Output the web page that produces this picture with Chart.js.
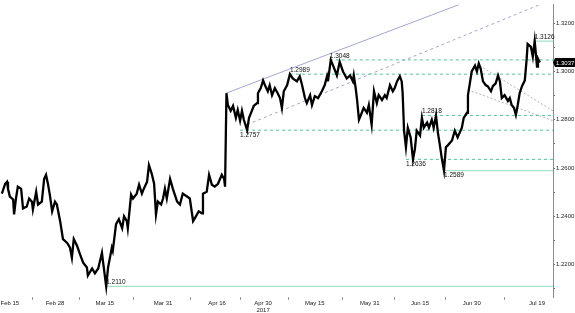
<!DOCTYPE html>
<html>
<head>
<meta charset="utf-8">
<script src="https://cdn.jsdelivr.net/npm/chart.js@4/dist/chart.umd.min.js"></script>
<style>
  html, body { margin: 0; padding: 0; background: #fff; }
</style>
</head>
<body>
<canvas id="fxChart" width="575" height="313"></canvas>
<script>
// x unit = trading days from the left edge of the chart
const tickDays = [2.1, 11.7, 22.3, 34.7, 46.2, 56.0, 67.0, 78.7, 89.4, 100.4, 114.3];
const tickLabels = ["Feb 15", "Feb 28", "Mar 15", "Mar 31", "Apr 16", ["Apr 30", "2017"], "May 15", "May 31", "Jun 15", "Jun 30", "Jul 19"];
const xMax = 117.7;

const priceDays = [0.4,1.1,1.5,1.7,2.1,2.8,3.0,3.4,3.8,4.5,4.9,5.7,6.2,6.8,7.0,7.7,8.1,8.9,9.4,9.8,
  10.2,10.6,11.1,11.7,12.1,12.8,13.4,14.3,14.9,15.3,15.7,16.4,17.0,17.7,18.5,18.7,19.6,20.2,20.9,21.7,
  21.9,22.6,23.0,23.8,24.0,24.7,25.3,26.0,26.4,27.0,27.2,27.9,28.3,29.1,29.6,30.2,30.6,31.3,31.7,32.3,
  32.8,33.2,33.6,34.3,34.7,35.1,35.5,36.2,36.8,37.2,37.7,38.3,38.9,39.8,40.4,41.1,41.7,42.3,43.0,43.2,
  44.0,44.5,45.1,45.7,46.4,47.2,47.7,47.9,
  48.2,48.5,49.1,49.6,50.2,50.6,51.1,51.5,51.9,52.6,53.0,53.6,54.0,54.7,54.9,55.5,56.0,56.4,57.0,57.4,
  57.9,58.5,59.1,59.6,60.0,60.4,61.1,61.7,62.3,63.2,63.8,64.3,64.9,65.3,66.0,66.4,67.0,67.7,68.5,69.1,
  69.6,69.8,70.4,70.9,71.7,72.3,
  73.0,73.8,74.5,75.1,75.3,75.7,76.0,76.4,77.0,77.4,78.1,78.5,79.1,79.6,80.2,80.6,81.3,81.9,82.3,83.0,
  83.6,84.0,84.5,85.1,85.5,85.7,86.0,86.4,86.8,87.4,87.9,88.3,88.7,89.4,89.8,90.2,90.9,91.3,91.9,92.3,
  92.8,93.2,93.6,94.0,94.5,94.9,95.3,96.2,96.8,97.4,98.3,98.7,99.4,99.6,100.0,100.4,101.1,101.5,101.9,102.3,
  102.8,103.4,103.8,104.5,104.9,105.5,106.0,106.4,106.8,107.4,108.1,108.5,108.9,109.4,109.8,110.2,110.6,111.1,111.7,112.1,
  112.3,113.0,113.4,113.8,114.3,114.5,114.9];

const prices = [1.2494,1.2535,1.2543,1.2514,1.2482,1.2470,1.2408,1.2474,1.2523,1.2514,1.2433,1.2441,1.2474,1.2461,1.2429,1.2502,1.2449,1.2461,1.2555,1.2572,
  1.2535,1.2490,1.2421,1.2461,1.2449,1.2380,1.2306,1.2290,1.2270,1.2229,1.2306,1.2278,1.2245,1.2208,1.2188,1.2155,1.2184,1.2164,1.2184,1.2249,
  1.2217,1.2110,1.2188,1.2270,1.2257,1.2368,1.2388,1.2351,1.2400,1.2380,1.2351,1.2490,1.2474,1.2494,1.2531,1.2494,1.2514,1.2543,1.2612,1.2576,
  1.2535,1.2408,1.2461,1.2449,1.2474,1.2514,1.2474,1.2555,1.2514,1.2490,1.2461,1.2449,1.2494,1.2482,1.2474,1.2380,1.2400,1.2421,1.2412,1.2494,
  1.2502,1.2572,1.2531,1.2523,1.2535,1.2572,1.2555,1.2523,
  1.2910,1.2861,1.2837,1.2857,1.2808,1.2841,1.2796,1.2837,1.2800,1.2757,1.2808,1.2837,1.2857,1.2869,1.2910,1.2931,1.2963,1.2943,1.2918,1.2943,
  1.2902,1.2931,1.2910,1.2890,1.2849,1.2918,1.2943,1.2989,1.2971,1.2959,1.2980,1.2943,1.2890,1.2869,1.2902,1.2861,1.2898,1.2890,1.2918,1.2943,
  1.2980,1.2959,1.3048,1.3024,1.2984,1.3040,
  1.3000,1.2971,1.2984,1.2959,1.2984,1.2931,1.2882,1.2800,1.2829,1.2849,1.2829,1.2861,1.2780,1.2918,1.2869,1.2902,1.2882,1.2902,1.2890,1.2943,
  1.2918,1.2931,1.2959,1.2980,1.2959,1.2910,1.2755,1.2686,1.2767,1.2727,1.2636,1.2678,1.2755,1.2735,1.2808,1.2767,1.2788,1.2767,1.2800,1.2767,
  1.2818,1.2747,1.2698,1.2645,1.2589,1.2686,1.2694,1.2714,1.2755,1.2727,1.2767,1.2808,1.2829,1.2902,1.2951,1.3000,1.3024,1.3000,1.3033,1.3012,
  1.2959,1.2943,1.2939,1.2918,1.2939,1.2951,1.2984,1.2959,1.2890,1.2902,1.2878,1.2890,1.2861,1.2849,1.2820,1.2861,1.2910,1.2939,1.2963,1.3053,
  1.3114,1.3102,1.3061,1.3126,1.3020,1.3053,1.3037];

const lastPrice = 1.3037;

// marked highs / lows and the day where each marker starts
const levelPrices = [1.3126, 1.3048, 1.2989, 1.2818, 1.2757, 1.2636, 1.2589, 1.2110];
const levelStartDays = [113.8, 70.2, 61.7, 89.8, 51.1, 86.4, 94.5, 22.6];

// trend lines: [startDay, startPrice, endDay, endPrice]
const channelTop = [48.1, 1.2910, 97.7, 1.3277];
const channelBottom = [52.6, 1.2780, 114.9, 1.3277];
const pullbackUpper = [102.1, 1.3024, 117.7, 1.2837];
const pullbackLower = [100.4, 1.2918, 117.7, 1.2796];

const yMin = 1.2066, yMax = 1.3277;

const FONT = "'Liberation Sans', Arial, sans-serif";
const solidLevels = [1.3126, 1.2589, 1.2110];
const labelsBelow = [1.2757, 1.2636, 1.2589];

const datasets = [];
datasets.push({
  data: priceDays.map((d, i) => ({ x: d, y: prices[i] })),
  borderColor: "#000",
  borderWidth: 2.3,
  pointRadius: 0,
  tension: 0,
});

levelPrices.forEach((p, i) => {
  const solid = solidLevels.includes(p);
  datasets.push({
    data: [{ x: levelStartDays[i], y: p }, { x: xMax, y: p }],
    borderColor: solid ? "#a6e3c9" : "#5dbf98",
    borderWidth: solid ? 1.2 : 1,
    borderDash: solid ? [] : [3, 3],
    pointRadius: 0,
  });
});

function trend(t, color, dash) {
  datasets.push({
    data: [{ x: t[0], y: t[1] }, { x: t[2], y: t[3] }],
    borderColor: color,
    borderWidth: 1,
    borderDash: dash,
    pointRadius: 0,
  });
}
trend(channelTop, "#a5a5d2", []);
trend(channelBottom, "#a5a5d2", [3, 3]);
trend(pullbackUpper, "#b3b3b3", [2, 2]);
trend(pullbackLower, "#b3b3b3", [2, 2]);

// x ticks: labelled ticks plus unlabelled marks halfway between them
const xTicks = [];
tickDays.forEach((d, i) => {
  xTicks.push({ value: d, text: tickLabels[i], mark: false });
  if (i < tickDays.length - 1) {
    xTicks.push({ value: (d + tickDays[i + 1]) / 2, text: "", mark: true });
  }
});

const yTicks = [];
for (let k = 121; k <= 132; k++) yTicks.push(k / 100);

const levelLabels = {
  id: "levelLabels",
  afterDatasetsDraw(chart) {
    const { ctx, chartArea } = chart;
    const x = chart.scales.x, y = chart.scales.y;
    ctx.save();
    ctx.font = "6.5px " + FONT;
    ctx.fillStyle = "#111";
    ctx.textAlign = "left";
    levelPrices.forEach((p, i) => {
      const px = x.getPixelForValue(levelStartDays[i]);
      const py = y.getPixelForValue(p);
      if (labelsBelow.includes(p)) {
        ctx.textBaseline = "top";
        ctx.fillText(p.toFixed(4), px, py + 1.5);
      } else {
        ctx.textBaseline = "bottom";
        ctx.fillText(p.toFixed(4), px, py - 0.5);
      }
    });
    // last price tag on the axis
    const ly = y.getPixelForValue(lastPrice);
    const bx = chartArea.right + 2;
    ctx.fillStyle = "#000";
    ctx.beginPath();
    ctx.moveTo(bx - 2, ly);
    ctx.lineTo(bx, ly - 4.5);
    ctx.lineTo(bx + 20, ly - 4.5);
    ctx.lineTo(bx + 20, ly + 4.5);
    ctx.lineTo(bx, ly + 4.5);
    ctx.closePath();
    ctx.fill();
    ctx.fillStyle = "#fff";
    ctx.font = "6px " + FONT;
    ctx.textBaseline = "middle";
    ctx.fillText(lastPrice.toFixed(4), bx + 1, ly + 0.5);
    ctx.restore();
  }
};

const ctx = document.getElementById("fxChart").getContext("2d");
new Chart(ctx, {
  type: "line",
  data: { datasets },
  options: {
    responsive: false,
    animation: false,
    layout: { padding: 0 },
    plugins: { legend: { display: false }, tooltip: { enabled: false } },
    scales: {
      x: {
        type: "linear",
        min: 0,
        max: xMax,
        afterBuildTicks: (scale) => { scale.ticks = xTicks.map((t) => ({ value: t.value })); },
        afterFit: (scale) => { scale.height = 16; },
        ticks: {
          autoSkip: false,
          maxRotation: 0,
          padding: 0,
          color: "#222",
          font: { family: FONT, size: 6, lineHeight: 1.1 },
          callback: (v, i) => xTicks[i].text,
        },
        grid: {
          drawOnChartArea: false,
          tickLength: 3,
          tickColor: (c) => (xTicks[c.index] && xTicks[c.index].mark ? "#999" : "rgba(0,0,0,0)"),
        },
        border: { display: false },
      },
      y: {
        type: "linear",
        position: "right",
        min: yMin,
        max: yMax,
        afterBuildTicks: (scale) => { scale.ticks = yTicks.map((v) => ({ value: v })); },
        afterFit: (scale) => { scale.width = 22; },
        ticks: {
          padding: 1,
          color: "#222",
          font: { family: FONT, size: 6 },
          callback: (v) => (Math.round(v * 100) % 2 === 0 ? v.toFixed(4) : ""),
        },
        grid: { drawOnChartArea: false, tickLength: 2, tickColor: "#666" },
        border: { display: true, color: "#8c8c8c" },
      },
    },
  },
  plugins: [levelLabels],
});
</script>
</body>
</html>
